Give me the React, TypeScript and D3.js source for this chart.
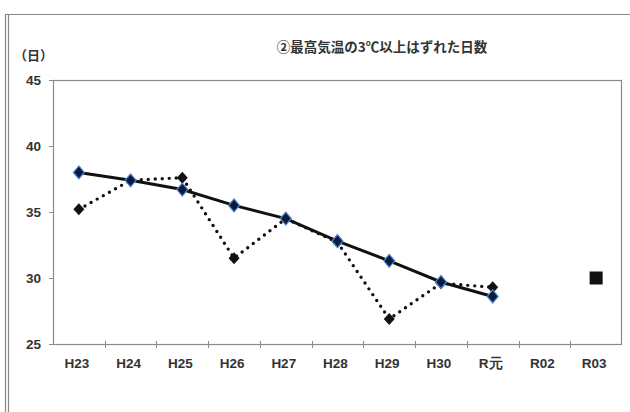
import React from 'react';
import * as d3 from 'd3';

const W = 630;
const H = 412;

// categories (fiscal years)
const years = ['H23', 'H24', 'H25', 'H26', 'H27', 'H28', 'H29', 'H30', 'R元', 'R02', 'R03'];
// trend line (solid, blue-edged diamonds)
const trendValues = [38.0, 37.4, 36.7, 35.5, 34.5, 32.8, 31.3, 29.7, 28.6];
// actual days (dotted, black diamonds)
const actualValues = [35.2, 37.4, 37.6, 31.5, 34.5, 32.7, 26.9, 29.6, 29.3];
// target (square)
const targetYear = 'R03';
const targetValue = 30;
const yTicks = [25, 30, 35, 40, 45];

const margin = { left: 53, right: 8, top: 80, bottom: 68 };

// slightly tall diamond, like Excel's marker
const diamondPath = (hw, hh) => {
  const p = d3.path();
  p.moveTo(0, -hh);
  p.lineTo(hw, 0);
  p.lineTo(0, hh);
  p.lineTo(-hw, 0);
  p.closePath();
  return p.toString();
};
const labelFont = "'Liberation Sans Narrow', 'Liberation Sans', Arial, sans-serif";

const App = () => {
  const x = d3
    .scaleBand()
    .domain(years)
    .range([margin.left, W - margin.right]);
  const y = d3
    .scaleLinear()
    .domain([25, 45])
    .range([H - margin.bottom, margin.top]);
  const cx = (d) => x(d) + x.bandwidth() / 2;

  const trend = trendValues.map((v, i) => ({ year: years[i], v }));
  const actual = actualValues.map((v, i) => ({ year: years[i], v }));
  const line = d3
    .line()
    .x((d) => cx(d.year))
    .y((d) => y(d.v));

  const plotBottom = H - margin.bottom;

  return (
    <svg
      width={W}
      height={H}
      viewBox={`0 0 ${W} ${H}`}
      style={{ position: 'absolute', left: 0, top: 0, background: '#fff' }}
    >
      {/* outer frame */}
      <line x1={5.5} x2={5.5} y1={14} y2={H} stroke="#888" strokeWidth={1.2} />
      <line x1={8.5} x2={8.5} y1={14} y2={H} stroke="#888" strokeWidth={1.2} />
      <line x1={5} x2={W} y1={14.5} y2={14.5} stroke="#888" strokeWidth={1.2} />

      {/* titles */}
      <text
        x={382}
        y={52}
        textAnchor="middle"
        fontSize={13.5}
        fontWeight="bold"
        fill="#333"
        fontFamily="'Noto Sans CJK JP', sans-serif"
      >
        ②最高気温の3℃以上はずれた日数
      </text>
      <text x={14} y={60} fontSize={13} fontWeight="bold" fill="#333" fontFamily="'Noto Sans CJK JP', sans-serif">
        （日）
      </text>

      {/* plot border */}
      <rect
        x={margin.left + 0.5}
        y={margin.top + 0.5}
        width={W - margin.left - margin.right - 1}
        height={plotBottom - margin.top}
        fill="none"
        stroke="#8a8a8a"
        strokeWidth={1.2}
      />

      {/* y ticks */}
      {yTicks.map((t) => (
        <g key={t}>
          <line
            x1={margin.left - 4}
            x2={margin.left}
            y1={Math.round(y(t)) + 0.5}
            y2={Math.round(y(t)) + 0.5}
            stroke="#8a8a8a"
          />
          <text
            x={margin.left - 12}
            y={y(t) + 5}
            textAnchor="end"
            fontSize={13.5}
            fontWeight="bold"
            fill="#333"
            fontFamily={labelFont}
          >
            {t}
          </text>
        </g>
      ))}

      {/* x ticks */}
      {years.map((yr, i) =>
        i === 0 ? null : (
          <line
            key={'t' + yr}
            x1={Math.round(x(yr)) + 0.5}
            x2={Math.round(x(yr)) + 0.5}
            y1={plotBottom - 3}
            y2={plotBottom + 4}
            stroke="#8a8a8a"
          />
        )
      )}
      {years.map((yr) => (
        <text
          key={yr}
          x={cx(yr) - 2}
          y={plotBottom + 24}
          textAnchor="middle"
          fontSize={13.5}
          fontWeight="bold"
          fill="#333"
          fontFamily={labelFont}
        >
          {yr}
        </text>
      ))}

      {/* actual (dotted) */}
      <path
        d={line(actual)}
        fill="none"
        stroke="#111"
        strokeWidth={3.4}
        strokeLinecap="round"
        strokeDasharray="0 7"
      />
      {actual.map((d) => (
        <path
          key={'a' + d.year}
          d={diamondPath(5.5, 6)}
          transform={`translate(${cx(d.year)},${y(d.v)})`}
          fill="#111"
        />
      ))}

      {/* trend (solid) */}
      <path d={line(trend)} fill="none" stroke="#111" strokeWidth={3} />
      {trend.map((d) => (
        <path
          key={'s' + d.year}
          d={diamondPath(5.5, 6.5)}
          transform={`translate(${cx(d.year)},${y(d.v)})`}
          fill="#0d1a3a"
          stroke="#4a8ad6"
          strokeWidth={1.2}
        />
      ))}

      {/* target */}
      <rect
        x={cx(targetYear) - 6.5}
        y={y(targetValue) - 6.5}
        width={13}
        height={13}
        fill="#111"
      />
    </svg>
  );
};

export default App;
